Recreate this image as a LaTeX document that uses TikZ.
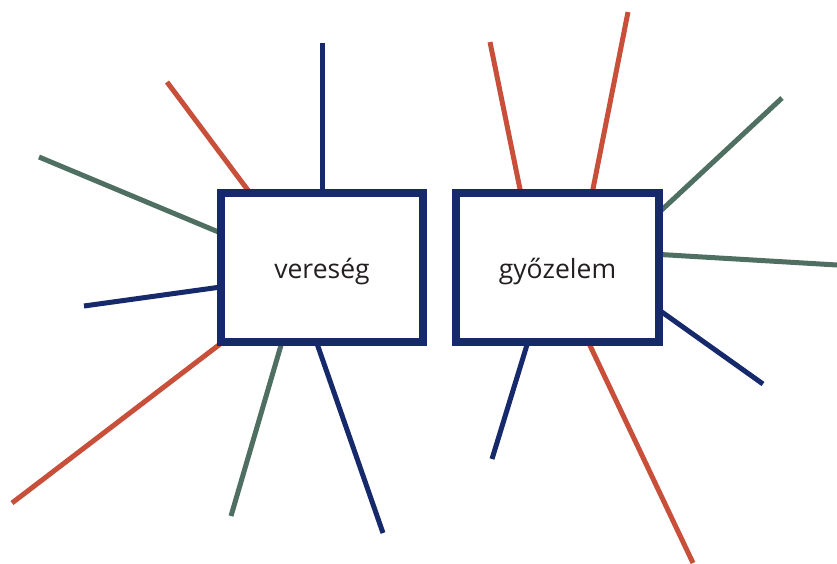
\documentclass[tikz,border=0pt]{standalone}
\usepackage{fontspec}
\setmainfont{Open Sans}
\definecolor{cred}{HTML}{C8503A}
\definecolor{cgreen}{HTML}{4F6F63}
\definecolor{cnavy}{HTML}{16296B}
\definecolor{ctext}{HTML}{231F20}
\tikzset{
  ray/.style={line width=5pt},
  rred/.style={ray,draw=cred},
  rgreen/.style={ray,draw=cgreen},
  rnavy/.style={ray,draw=cnavy},
  wordbox/.style={draw=cnavy,line width=8pt,fill=white,minimum width=202pt,minimum height=149pt,inner sep=0pt,anchor=north west,text=ctext,font=\fontsize{26.5}{30}\selectfont}
}
\begin{document}
\begin{tikzpicture}[x=1pt,y=-1pt]
\useasboundingbox (0,0) rectangle (837,563);
% free ends and box ends (left box)
\coordinate (a1) at (322,43);  \coordinate (b1) at (322,200);
\coordinate (a2) at (167,82);  \coordinate (b2) at (253,197);
\coordinate (a3) at (39,157);  \coordinate (b3) at (228,236);
\coordinate (a4) at (84,306);  \coordinate (b4) at (228,286);
\coordinate (a5) at (12,503);  \coordinate (b5) at (228,338);
\coordinate (a6) at (231,516); \coordinate (b6) at (284,335);
\coordinate (a7) at (383,533); \coordinate (b7) at (314,335);
% right box
\coordinate (c1) at (490,42);  \coordinate (d1) at (522,199);
\coordinate (c2) at (628,12);  \coordinate (d2) at (591,199);
\coordinate (c3) at (782,98);  \coordinate (d3) at (652,219);
\coordinate (c4) at (837,265); \coordinate (d4) at (652,254);
\coordinate (c5) at (763,384); \coordinate (d5) at (652,305);
\coordinate (c6) at (693,563); \coordinate (d6) at (585,335);
\coordinate (c7) at (492,459); \coordinate (d7) at (530,335);
\draw[rnavy] (a1) -- (b1);
\draw[rred] (a2) -- (b2);
\draw[rgreen] (a3) -- (b3);
\draw[rnavy] (a4) -- (b4);
\draw[rred] (a5) -- (b5);
\draw[rgreen] (a6) -- (b6);
\draw[rnavy] (a7) -- (b7);
\draw[rred] (c1) -- (d1);
\draw[rred] (c2) -- (d2);
\draw[rgreen] (c3) -- (d3);
\draw[rgreen] (c4) -- (d4);
\draw[rnavy] (c5) -- (d5);
\draw[rred] (c6) -- (d6);
\draw[rnavy] (c7) -- (d7);
\node[wordbox] (vb) at (217,189) {\raisebox{-10.5pt}[0pt][0pt]{vereség}};
\node[wordbox,minimum width=203pt] (gy) at (452,189) {\raisebox{-10.5pt}[0pt][0pt]{győzelem}};
\end{tikzpicture}
\end{document}
